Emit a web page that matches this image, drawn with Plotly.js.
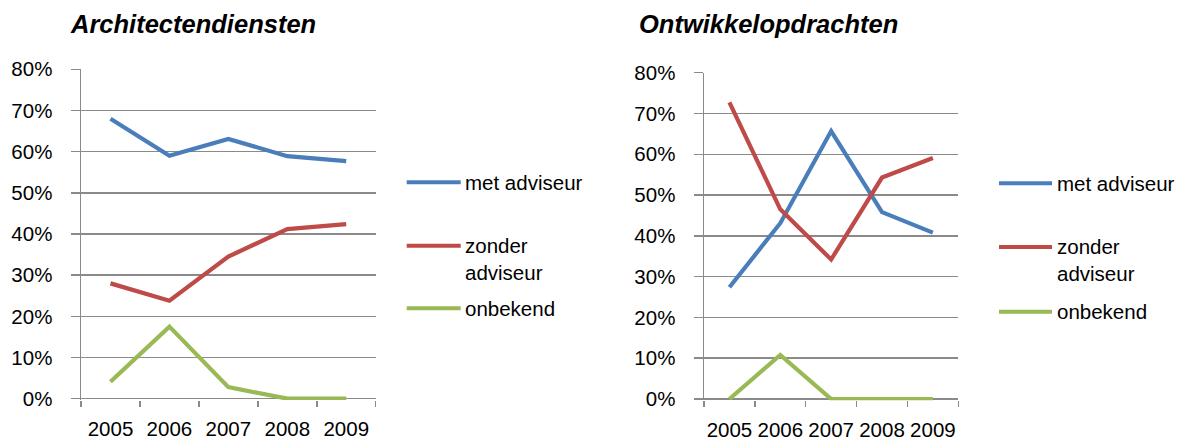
<!DOCTYPE html>
<html>
<head>
<meta charset="utf-8">
<script src="https://cdn.plot.ly/plotly-3.0.1.min.js"></script>
<style>html,body{margin:0;padding:0;background:#fff;}#chart{width:1181px;height:443px;}</style>
</head>
<body>
<div id="chart"></div>
<script>
// ---- data ----
const years = ['2005', '2006', '2007', '2008', '2009'];
const seriesNames = ['met adviseur', 'zonder adviseur', 'onbekend'];
const legendLabels = ['met adviseur', 'zonder<br>adviseur', 'onbekend'];
const panelTitles = ['Architectendiensten', 'Ontwikkelopdrachten'];
const yTickValues = [0, 10, 20, 30, 40, 50, 60, 70, 80];

const archMet = [68.0, 59.0, 63.1, 58.9, 57.7];
const archZonder = [28.0, 23.8, 34.5, 41.2, 42.4];
const archOnbekend = [4.1, 17.5, 2.8, 0, 0];

const ontwMet = [27.4, 43.1, 65.7, 45.8, 40.8];
const ontwZonder = [72.7, 46.5, 34.2, 54.3, 59.1];
const ontwOnbekend = [0, 10.8, 0, 0, 0];

// ---- styling ----
const W = 1181, H = 443;
const colors = ['#4A7EBB', '#BE4B48', '#98B954'];
const gridColor = '#8a8a8a';
const FONT = 'Arial, "Liberation Sans", sans-serif';

const panels = [
  {values: [archMet, archZonder, archOnbekend], xa: 'x', ya: 'y',
   xdom: [81 / W, 375.7 / W], ydom: [(H - 399.9) / H, (H - 69.3) / H],
   titleX: 68, legLine: [406.7, 460.7], legText: 463, legY: [182.3, 258.7, 308.3]},
  {values: [ontwMet, ontwZonder, ontwOnbekend], xa: 'x2', ya: 'y2',
   xdom: [704 / W, 958.3 / W], ydom: [(H - 400.2) / H, (H - 72.7) / H],
   titleX: 637, legLine: [999, 1052], legText: 1055, legY: [183.3, 260, 311.7]}
];

const traces = [];
const shapes = [];
const annotations = [];
const layout = {
  width: W, height: H,
  margin: {l: 0, r: 0, t: 0, b: 0},
  paper_bgcolor: '#fff', plot_bgcolor: 'rgba(0,0,0,0)',
  showlegend: false,
  font: {family: FONT, color: '#000', size: 20.5},
  shapes: shapes, annotations: annotations
};

panels.forEach((p, pi) => {
  p.values.forEach((vals, si) => {
    traces.push({
      type: 'scatter', mode: 'lines', name: seriesNames[si],
      x: years, y: vals, xaxis: p.xa, yaxis: p.ya,
      line: {color: colors[si], width: 4.2, shape: 'linear'},
      hoverinfo: 'x+y+name'
    });
    // legend sample line + label
    const ly = si === 1 ? p.legY[1] - 13 : p.legY[si];
    shapes.push({type: 'line', xref: 'paper', yref: 'paper',
      x0: p.legLine[0] / W, x1: p.legLine[1] / W,
      y0: 1 - ly / H, y1: 1 - ly / H,
      line: {color: colors[si], width: 4}});
    annotations.push({xref: 'paper', yref: 'paper', x: p.legText / W, y: 1 - p.legY[si] / H,
      xanchor: 'left', yanchor: 'middle', align: 'left', showarrow: false,
      text: legendLabels[si], font: {family: FONT, size: 20.5, color: '#000'}});
  });
  annotations.push({xref: 'paper', yref: 'paper', x: p.titleX / W, y: 1 - 24.5 / H,
    xanchor: 'left', yanchor: 'middle', showarrow: false,
    text: '<b><i>' + panelTitles[pi] + '</i></b>',
    font: {family: FONT, size: 25.5, color: '#000'}});

  const xk = pi === 0 ? 'xaxis' : 'xaxis2';
  const yk = pi === 0 ? 'yaxis' : 'yaxis2';
  layout[xk] = {
    domain: p.xdom, anchor: p.ya, type: 'category',
    categoryarray: years, categoryorder: 'array',
    range: [-0.5, years.length - 0.5],
    showgrid: false, zeroline: false, showline: false,
    ticks: 'outside', tickson: 'boundaries', ticklen: 6, tickwidth: 1.5, tickcolor: gridColor,
    ticklabelstandoff: 15, tickangle: 0,
    tickfont: {family: FONT, size: 20.5, color: '#000'},
    fixedrange: true
  };
  layout[yk] = {
    domain: p.ydom, anchor: p.xa, range: [-0.3, 80],
    tickvals: yTickValues, ticktext: yTickValues.map(v => v + '%'),
    showgrid: true, gridcolor: gridColor, gridwidth: 1.5,
    zeroline: false, showline: true, linecolor: gridColor, linewidth: 1.5,
    ticks: 'outside', ticklen: 9, tickwidth: 1.5, tickcolor: gridColor,
    ticklabelstandoff: 14,
    tickfont: {family: FONT, size: 20.5, color: '#000'},
    fixedrange: true
  };
});

Plotly.newPlot('chart', traces, layout, {staticPlot: true, displayModeBar: false});
</script>
</body>
</html>
